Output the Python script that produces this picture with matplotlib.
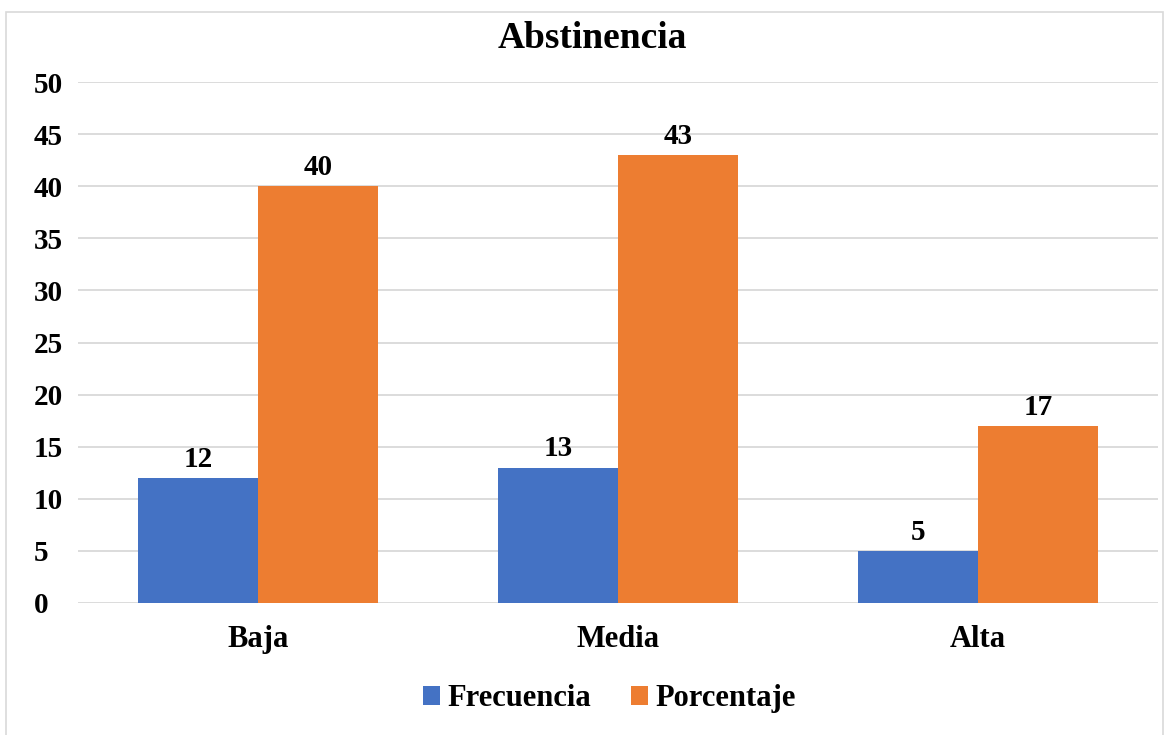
import matplotlib
matplotlib.use("Agg")
import matplotlib.pyplot as plt
import matplotlib.patches as mpatches
import numpy as np

categories = ["Baja", "Media", "Alta"]
frecuencia = [12, 13, 5]
porcentaje = [40, 43, 17]
series_names = ["Frecuencia", "Porcentaje"]
colors = ["#4472C4", "#ED7D31"]
yticks = list(range(0, 55, 5))

plt.rcParams['font.family'] = 'serif'
plt.rcParams['font.serif'] = ['Liberation Serif', 'Times New Roman', 'DejaVu Serif']
plt.rcParams['font.weight'] = 'bold'

fig = plt.figure(figsize=(11.7, 7.35), dpi=100)
ax = fig.add_axes([0.0667, 0.1796, 0.9230, 0.7088])

# chart border
fig.patches.append(mpatches.Rectangle((0.005, -0.01), 0.989, 0.994, transform=fig.transFigure,
                                      fill=False, edgecolor="#D9D9D9", lw=1.2))

x = np.arange(len(categories))
w = 1 / 3
b1 = ax.bar(x - w / 2, frecuencia, w, color=colors[0], label=series_names[0], zorder=2)
b2 = ax.bar(x + w / 2, porcentaje, w, color=colors[1], label=series_names[1], zorder=2)

for bars, vals in ((b1, frecuencia), (b2, porcentaje)):
    for rect, v in zip(bars, vals):
        ax.text(rect.get_x() + rect.get_width() / 2, v + 0.5, str(v),
                ha="center", va="bottom", fontsize=21, fontweight="bold")

ax.set_xlim(-0.5, 2.5)
ax.set_ylim(0, 50)
ax.set_yticks(yticks)
ax.set_xticks(x)
ax.set_xticklabels(categories)
ax.tick_params(axis="y", length=0, labelsize=21, pad=32)
ax.tick_params(axis="x", length=0, labelsize=22, pad=16)
for lbl in ax.get_yticklabels():
    lbl.set_horizontalalignment("left")
ax.yaxis.grid(True, color="#D9D9D9", lw=1.3, zorder=0)
for s in ax.spines.values():
    s.set_visible(False)

fig.text(0.506, 0.947, "Abstinencia", ha="center", va="center", fontsize=27, fontweight="bold")

ax.legend(loc="center", bbox_to_anchor=(0.521, 0.049), bbox_transform=fig.transFigure, ncol=2,
          frameon=False, fontsize=22, handlelength=0.55, handleheight=0.55,
          handletextpad=0.25, columnspacing=1.3)

fig.savefig("out.png", dpi=100)
